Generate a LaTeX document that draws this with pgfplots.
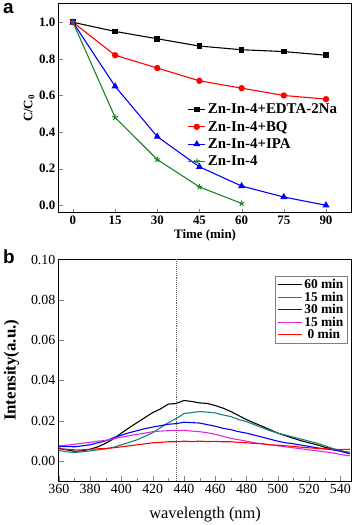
\documentclass[border=0pt]{standalone}
\usepackage{pgfplots}
\pgfplotsset{compat=1.18}
\usepackage{fontspec}
\setmainfont{Liberation Serif}
\setsansfont{Liberation Sans}
\definecolor{myteal}{RGB}{20,130,120}
\definecolor{mygreen}{RGB}{30,130,40}
\definecolor{mymag}{RGB}{220,40,230}
\begin{document}
\begin{tikzpicture}
\path (0bp,0bp) rectangle (358bp,-525bp);
% ---------------- panel a
\begin{axis}[
  at={(59bp,-4bp)}, anchor=north west,
  scale only axis, width=293bp, height=209bp,
  xmin=-5, xmax=99, ymin=-0.04, ymax=1.1,
  xtick={0,15,30,45,60,75,90},
  ytick={0,0.2,0.4,0.6,0.8,1.0},
  /pgf/number format/assume math mode=true,
  /pgf/number format/.cd, fixed, fixed zerofill, precision=1, /pgfplots/.cd,
  xticklabel style={/pgf/number format/precision=0, /pgf/number format/fixed zerofill=false},
  tick label style={font=\fontsize{13}{15}\selectfont\bfseries},
  tick align=inside, xtick pos=bottom, ytick pos=left,
  axis line style={line width=1pt},
  major tick length=4bp,
  xlabel={Time (min)}, ylabel={C/C$_\mathbf{0}$},
  xlabel style={font=\fontsize{13}{15}\selectfont\bfseries, yshift=2bp},
  ylabel style={font=\fontsize{13}{15}\selectfont\bfseries, yshift=-2bp},
  legend style={at={(0.44,0.532)}, anchor=north west, draw=none, fill=none,
    font=\fontsize{15}{17}\selectfont\bfseries, row sep=2bp,
    inner sep=0pt},
  legend cell align=left,
  every axis plot/.append style={line width=1.1pt},
]
\addplot[black, mark=square*, mark size=2.3bp] coordinates {
(0,1.0) (15,0.95) (30,0.91) (45,0.87) (60,0.85) (75,0.84) (90,0.82)};
\addlegendentry{Zn-In-4+EDTA-2Na}
\addplot[red, mark=*, mark size=2.6bp] coordinates {
(0,1.0) (15,0.82) (30,0.75) (45,0.68) (60,0.64) (75,0.60) (90,0.58)};
\addlegendentry{Zn-In-4+BQ}
\addplot[blue, mark=triangle*, mark size=3bp] coordinates {
(0,1.0) (15,0.65) (30,0.375) (45,0.21) (60,0.105) (75,0.045) (90,0.0)};
\addlegendentry{Zn-In-4+IPA}
\addplot[mygreen, mark=star, mark size=3bp, mark options={line width=1pt}] coordinates {
(0,1.0) (15,0.48) (30,0.25) (45,0.10) (60,0.01)};
\addlegendentry{Zn-In-4}
\end{axis}
\node[font=\sffamily\bfseries\fontsize{19}{20}\selectfont, anchor=north west, inner sep=0pt] at (3bp,-3bp) {a};
% ---------------- panel b
\begin{axis}[
  at={(59bp,-260bp)}, anchor=north west,
  scale only axis, width=293bp, height=222bp,
  xmin=360, xmax=547, ymin=-0.01, ymax=0.10,
  xtick={360,380,...,540}, minor xtick={370,390,...,530},
  ytick={0,0.02,0.04,0.06,0.08,0.10},
  /pgf/number format/assume math mode=true,
  yticklabel style={/pgf/number format/.cd, fixed, fixed zerofill, precision=2},
  xticklabel style={/pgf/number format/.cd, 1000 sep={}},
  scaled y ticks=false,
  tick label style={font=\fontsize{14}{16}\selectfont},
  tick align=inside, xtick pos=bottom, ytick pos=left,
  axis line style={line width=1pt},
  major tick length=5bp, minor tick length=3bp,
  xlabel={wavelength (nm)}, ylabel={Intensity(a.u.)},
  xlabel style={font=\fontsize{16.5}{18}\selectfont, yshift=-6bp},
  ylabel style={font=\fontsize{17}{19}\selectfont\bfseries, yshift=5bp},
  legend style={at={(0.74,0.925)}, anchor=north west, draw=gray, line width=0.6pt, fill=white,
    font=\fontsize{13.5}{15}\selectfont\bfseries, row sep=-2.3bp,
    inner xsep=1.5bp, inner ysep=1bp},
  legend cell align=left,
  legend image code/.code={\draw[#1, line width=1.3pt] (0bp,0bp) -- (24bp,0bp);},
  every axis plot/.append style={line width=1.1pt, no markers},
]
\addplot[black!60, densely dotted, line width=0.8pt, forget plot] coordinates {(435,-0.01) (435,0.10)};
\addplot[black] coordinates {
(360,.0062) (365,.0055) (370,.0048) (375,.0050) (380,.0058) (385,.0070) (390,.0088) (395,.0110) (400,.0138) (405,.0165) (410,.0190) (415,.0215) (420,.0240) (425,.0258) (430,.0282) (435,.0285) (440,.0300) (445,.0295) (450,.0288) (455,.0285) (460,.0275) (465,.0262) (470,.0245) (475,.0225) (480,.0205) (485,.0188) (490,.0172) (495,.0155) (500,.0138) (505,.0125) (510,.0112) (515,.0100) (520,.0090) (525,.0080) (530,.0068) (535,.0060) (540,.0050) (546,.0042)};
\addlegendentry{60 min}
\addplot[myteal] coordinates {
(360,.0052) (365,.0045) (370,.0042) (375,.0045) (380,.0050) (385,.0055) (390,.0060) (395,.0068) (400,.0080) (405,.0092) (410,.0105) (415,.0122) (420,.0140) (425,.0165) (430,.0190) (435,.0210) (440,.0235) (445,.0240) (450,.0245) (455,.0242) (460,.0238) (465,.0228) (470,.0220) (475,.0205) (480,.0195) (485,.0180) (490,.0165) (495,.0150) (500,.0138) (505,.0128) (510,.0118) (515,.0108) (520,.0098) (525,.0088) (530,.0075) (535,.0062) (540,.0050) (546,.0040)};
\addlegendentry{15 min}
\addplot[blue] coordinates {
(360,.0070) (365,.0072) (370,.0070) (375,.0075) (380,.0080) (385,.0090) (390,.0100) (395,.0115) (400,.0128) (405,.0140) (410,.0150) (415,.0160) (420,.0168) (425,.0175) (430,.0182) (435,.0185) (440,.0192) (445,.0190) (450,.0188) (455,.0180) (460,.0172) (465,.0162) (470,.0155) (475,.0145) (480,.0138) (485,.0128) (490,.0118) (495,.0108) (500,.0098) (505,.0090) (510,.0085) (515,.0078) (520,.0072) (525,.0065) (530,.0060) (535,.0055) (540,.0048) (546,.0035)};
\addlegendentry{30 min}
\addplot[mymag] coordinates {
(360,.0075) (365,.0078) (370,.0082) (375,.0088) (380,.0092) (385,.0098) (390,.0102) (395,.0110) (400,.0118) (405,.0125) (410,.0132) (415,.0138) (420,.0145) (425,.0148) (430,.0150) (435,.0150) (440,.0152) (445,.0148) (450,.0145) (455,.0140) (460,.0132) (465,.0122) (470,.0112) (475,.0105) (480,.0098) (485,.0090) (490,.0085) (495,.0080) (500,.0075) (505,.0070) (510,.0065) (515,.0060) (520,.0055) (525,.0050) (530,.0045) (535,.0040) (540,.0032) (546,.0025)};
\addlegendentry{15 min}
\addplot[red] coordinates {
(360,.0060) (365,.0058) (370,.0055) (375,.0055) (380,.0058) (385,.0060) (390,.0062) (395,.0065) (400,.0070) (405,.0075) (410,.0080) (415,.0085) (420,.0090) (425,.0092) (430,.0095) (435,.0095) (440,.0098) (445,.0096) (450,.0098) (455,.0096) (460,.0097) (465,.0095) (470,.0095) (475,.0092) (480,.0090) (485,.0087) (490,.0085) (495,.0080) (500,.0078) (505,.0075) (510,.0072) (515,.0068) (520,.0065) (525,.0062) (530,.0060) (535,.0058) (540,.0056) (546,.0058)};
\addlegendentry{\ 0 min}
\end{axis}
\node[font=\sffamily\bfseries\fontsize{19}{20}\selectfont, anchor=north west, inner sep=0pt] at (3bp,-250bp) {b};
\end{tikzpicture}
\end{document}
